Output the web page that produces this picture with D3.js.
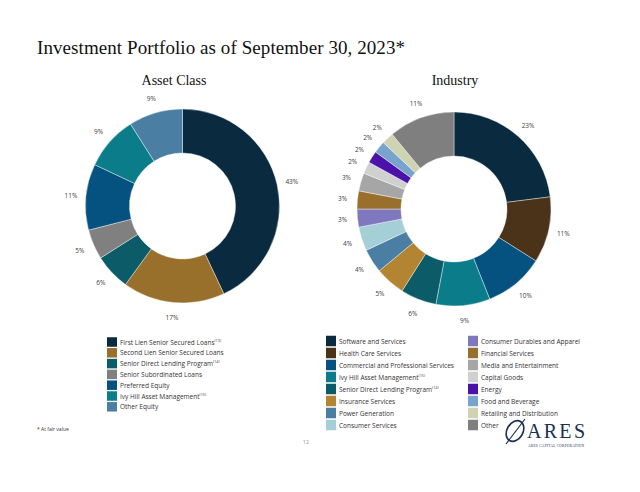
<!DOCTYPE html>
<html><head><meta charset="utf-8">
<script src="https://cdn.jsdelivr.net/npm/d3@7"></script>
<style>html,body{margin:0;padding:0;background:#fff;}svg{display:block;}</style>
</head><body>
<svg id="c" width="640" height="492"></svg>
<script>
// ---- data ----
const assetCategories = ["First Lien Senior Secured Loans","Second Lien Senior Secured Loans","Senior Direct Lending Program","Senior Subordinated Loans","Preferred Equity","Ivy Hill Asset Management","Other Equity"];
const assetSup = ["(13)","","(14)","","","(15)",""];
const assetValues = [43,17,6,5,11,9,9];
const assetColors = ["#0a2a40","#98702c","#0b5c68","#808080","#05517f","#0b7d8a","#4a7fa3"];

const industryCategories = ["Software and Services","Health Care Services","Commercial and Professional Services","Ivy Hill Asset Management","Senior Direct Lending Program","Insurance Services","Power Generation","Consumer Services","Consumer Durables and Apparel","Financial Services","Media and Entertainment","Capital Goods","Energy","Food and Beverage","Retailing and Distribution","Other"];
const industrySup = ["","","","(15)","(14)","","","","","","","","","","",""];
const industryValues = [23,11,10,9,6,5,4,4,3,3,3,2,2,2,2,11];
const industryColors = ["#0a2a40","#4b3319","#05517f","#0b7d8a","#0b5c68","#b38432","#4a7fa3","#a5cfd6","#8078bf","#98702c","#a6a6a6","#d0d0d0","#4b12a9","#78a3cc","#cfd3b2","#7f7f7f"];

const svg = d3.select("#c");
const sans = "'Open Sans', sans-serif";
const serif = "'Liberation Serif', 'Times New Roman', serif";

svg.append("text").attr("x",37).attr("y",54).attr("font-family",serif).attr("font-size",19)
  .attr("fill","#111").attr("textLength",368).text("Investment Portfolio as of September 30, 2023*");

function donut(cx, cy, values, colors, title, titleX) {
  const g = svg.append("g").attr("transform",`translate(${cx},${cy})`);
  const pie = d3.pie().sort(null).value(d=>d)(values);
  const arc = d3.arc().innerRadius(53).outerRadius(97);
  const lab = d3.arc().innerRadius(112).outerRadius(112);
  g.selectAll("path").data(pie).join("path").attr("d",arc)
    .attr("fill",(d,i)=>colors[i]).attr("stroke","#fff").attr("stroke-width",0.4);
  g.selectAll("text.l").data(pie).join("text").attr("class","l")
    .attr("x",d=>lab.centroid(d)[0]).attr("y",d=>lab.centroid(d)[1])
    .attr("text-anchor","middle").attr("dominant-baseline","central")
    .attr("font-family",sans).attr("font-size",6.5).attr("fill","#404040")
    .text(d=>d.data+"%");
  svg.append("text").attr("x",titleX).attr("y",85).attr("text-anchor","middle")
    .attr("font-family",serif).attr("font-size",14).attr("fill","#111").text(title);
}
donut(182.5, 206, assetValues, assetColors, "Asset Class", 174);
donut(454, 209, industryValues, industryColors, "Industry", 455);

function legend(items, sups, colors, x, y0, dy, sw, sh) {
  const g = svg.append("g");
  items.forEach((t,i)=>{
    const y = y0 + i*dy;
    g.append("rect").attr("x",x).attr("y",y-sh/2).attr("width",sw).attr("height",sh).attr("fill",colors[i]);
    const tx = g.append("text").attr("x",x+sw+3).attr("y",y).attr("dominant-baseline","central")
      .attr("font-family",sans).attr("font-size",6.5).attr("fill","#333").text(t);
    if (sups[i]) tx.append("tspan").attr("font-size",3.8).attr("dy",-2.5).text(sups[i]);
  });
}
legend(assetCategories, assetSup, assetColors, 107, 342, 10.8, 10, 9.5);
legend(industryCategories.slice(0,8), industrySup.slice(0,8), industryColors.slice(0,8), 326, 341, 12, 10, 10.5);
legend(industryCategories.slice(8), industrySup.slice(8), industryColors.slice(8), 468, 341, 12, 10, 10.5);

svg.append("text").attr("x",37).attr("y",431).attr("font-family",sans).attr("font-size",5).attr("fill","#333").text("* At fair value");
svg.append("text").attr("x",306).attr("y",444).attr("text-anchor","middle").attr("font-family",sans).attr("font-size",5.5).attr("fill","#999").text("12");

// logo
const lg = svg.append("g");
lg.append("ellipse").attr("cx",515).attr("cy",431).attr("rx",8).attr("ry",11).attr("transform","rotate(30,515,431)")
  .attr("fill","none").attr("stroke","#1a3050").attr("stroke-width",1.6);
lg.append("line").attr("x1",506).attr("y1",444).attr("x2",525).attr("y2",419).attr("stroke","#1a3050").attr("stroke-width",1.2);
lg.append("text").attr("x",527).attr("y",438).attr("font-family",serif).attr("font-size",20).attr("fill","#1a3050").attr("textLength",58).text("ARES");
lg.append("text").attr("x",528).attr("y",447).attr("font-family",serif).attr("font-size",3.5).attr("fill","#1a3050").attr("textLength",56).text("ARES CAPITAL CORPORATION");
</script>
</body></html>
